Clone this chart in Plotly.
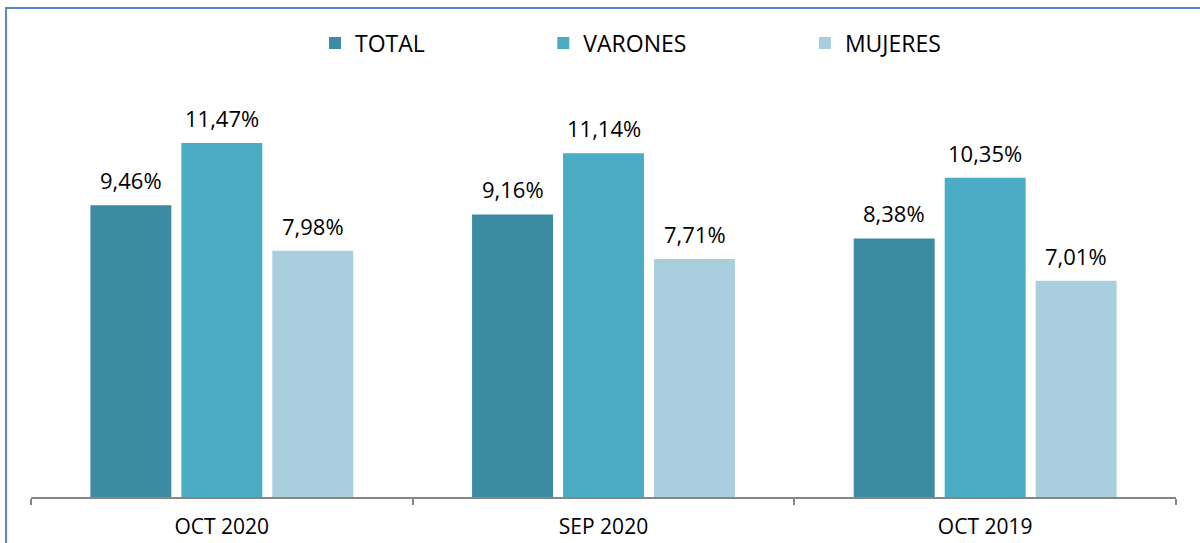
import plotly.graph_objects as go

categories = ["OCT 2020", "SEP 2020", "OCT 2019"]
series_names = ["TOTAL", "VARONES", "MUJERES"]
total = [9.46, 9.16, 8.38]
varones = [11.47, 11.14, 10.35]
mujeres = [7.98, 7.71, 7.01]
colors = ["#3B8BA2", "#4BACC6", "#A9CEDD"]

values = [total, varones, mujeres]
NB = "\u00a0"
legend_pad = [19, 19, 0]

FONT = "Open Sans"
fig = go.Figure()
for name, vals, col, pad in zip(series_names, values, colors, legend_pad):
    fig.add_trace(go.Bar(
        x=categories, y=vals, name=name + NB * pad,
        marker=dict(color=col, line=dict(width=0)),
    ))

def fmt(v):
    return f"{v:.2f}".replace(".", ",") + "%"

annotations = []
for i, vals in enumerate(values):
    for c, v in zip(categories, vals):
        annotations.append(dict(
            x=c, y=v, xref="x", yref="y", text=fmt(v), showarrow=False,
            xanchor="center", yanchor="bottom", xshift=(i - 1) * 91, yshift=8,
            font=dict(family=FONT, size=22, color="#000000"),
        ))

fig.update_layout(
    width=1200, height=543,
    margin=dict(l=31, r=24, t=74, b=46, autoexpand=False),
    paper_bgcolor="white", plot_bgcolor="white",
    barmode="group", bargap=0.285, bargroupgap=0.11,
    font=dict(family=FONT, size=21, color="#000000"),
    showlegend=True,
    legend=dict(orientation="h", xref="container", yref="container",
                x=0.2625, xanchor="left", y=0.9208, yanchor="middle",
                font=dict(family=FONT, size=23, color="#000000"),
                bgcolor="rgba(0,0,0,0)", traceorder="normal"),
    xaxis=dict(showline=True, linecolor="#868686", linewidth=1.5, automargin=False,
               ticks="outside", tickson="boundaries", ticklen=6, tickwidth=1.5,
               tickcolor="#868686", showgrid=False, ticklabelstandoff=10,
               tickfont=dict(family=FONT, size=21, color="#000000")),
    yaxis=dict(visible=False, range=[0, 13.71], showgrid=False, automargin=False),
    annotations=annotations,
    shapes=[dict(type="rect", xref="paper", yref="paper",
                 x0=-0.0218, x1=1.035, y0=-0.149, y1=1.156,
                 line=dict(color="#5A86C5", width=2), fillcolor="rgba(0,0,0,0)")],
)

fig.write_html("out.html", post_script="document.body.style.margin='0';",
               config={"displayModeBar": False})
